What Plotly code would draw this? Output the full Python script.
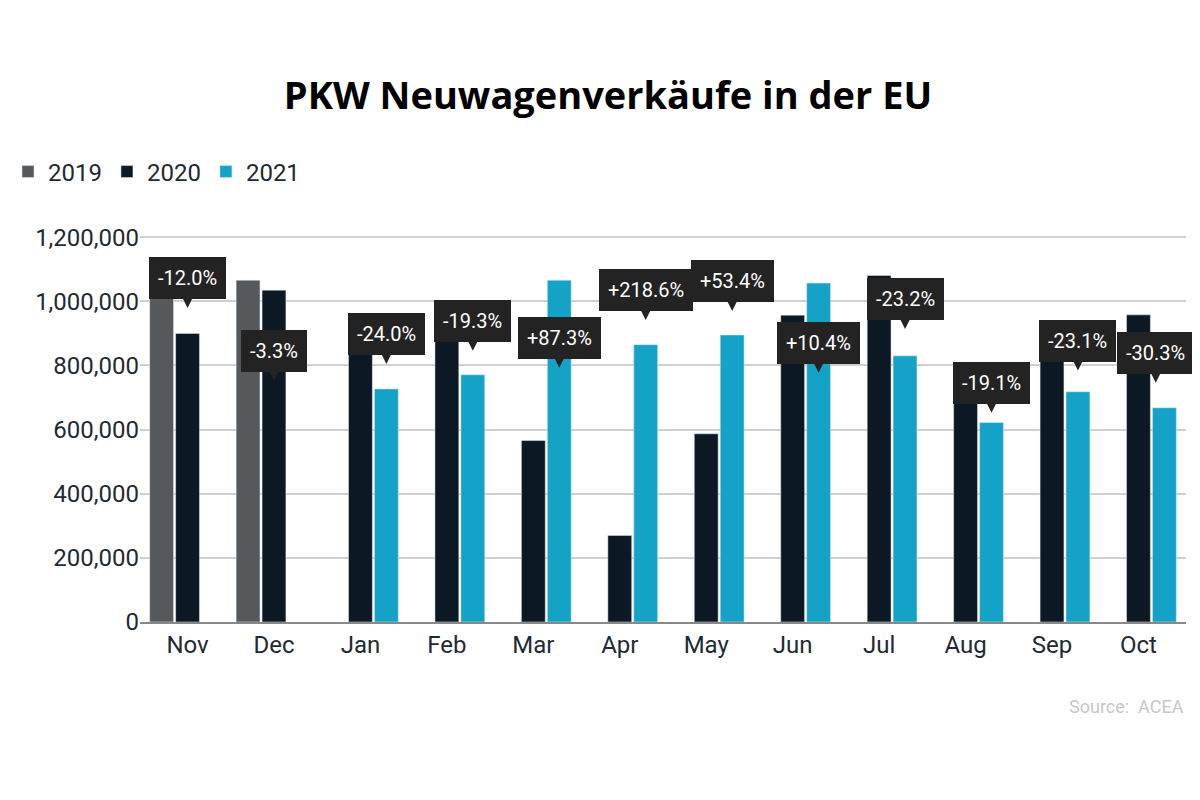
import plotly.graph_objects as go

months = ["Nov", "Dec", "Jan", "Feb", "Mar", "Apr", "May", "Jun", "Jul", "Aug", "Sep", "Oct"]
sales_2019 = [1020000, 1066000, None, None, None, None, None, None, None, None, None, None]
sales_2020 = [900000, 1035000, 955000, 955000, 566000, 270000, 587000, 957000, 1081000, 769000, 934000, 958000]
sales_2021 = [None, None, 727000, 771000, 1066000, 865000, 895000, 1057000, 830000, 622000, 718000, 668000]
changes = ["-12.0%", "-3.3%", "-24.0%", "-19.3%", "+87.3%", "+218.6%", "+53.4%", "+10.4%", "-23.2%", "-19.1%", "-23.1%", "-30.3%"]
# label placement (box centre)
label_y = [1072000, 845000, 898000, 939000, 886000, 1035000, 1063000, 870000, 1007000, 746000, 877000, 839000]
label_dx = [0, 0, 0.3, 0.3, 0.3, 0.3, 0.3, 0.3, 0.3, 0.3, 0.3, 0.2]

x = list(range(len(months)))

fig = go.Figure()
fig.add_trace(go.Bar(x=x, y=sales_2019, name="2019", marker_color="#55595b"))
fig.add_trace(go.Bar(x=x, y=sales_2020, name="2020", marker_color="#0c1924"))
fig.add_trace(go.Bar(x=x, y=sales_2021, name="2021", marker_color="#14a2c6"))

for i in x:
    # arrow tip sits ~30px below the box centre
    fig.add_annotation(x=i + label_dx[i], y=label_y[i] - 93000, ax=0, ay=-30,
                       text=changes[i], showarrow=True, arrowhead=2, arrowsize=1.6,
                       arrowwidth=2.5, arrowcolor="#232323", standoff=0,
                       bgcolor="#232323", bordercolor="#232323", borderpad=8,
                       font=dict(color="white", size=20, family="Roboto"))

fig.update_layout(
    width=1200, height=800,
    paper_bgcolor="white", plot_bgcolor="white",
    barmode="group", bargap=0.1, bargroupgap=0.08,
    margin=dict(l=132, r=22, t=210, b=186),
    title=dict(text="<b>PKW Neuwagenverkäufe in der EU</b>", x=0.5, y=0.89, yref="container",
               yanchor="middle", xanchor="center",
               font=dict(size=38, color="black", family="Open Sans")),
    legend=dict(orientation="h", x=0.0, y=0.795, xref="container", yref="container",
                xanchor="left", yanchor="middle",
                font=dict(size=24, color="#1e2a33", family="Roboto"), itemwidth=30),
    font=dict(family="Roboto"),
)
fig.update_xaxes(tickvals=x, ticktext=months, range=[-0.55, 11.55],
                 tickfont=dict(size=24, color="#1e2a33"), showline=True, linecolor="#888", linewidth=2)
fig.update_yaxes(range=[0, 1260000], tickvals=[0, 200000, 400000, 600000, 800000, 1000000, 1200000],
                 tickformat=",", tickfont=dict(size=24, color="#1e2a33"),
                 gridcolor="#d0d0d0", gridwidth=1.5, zeroline=False)
fig.add_annotation(text="Source:  ACEA", xref="paper", yref="paper", x=1, y=-0.24,
                   xanchor="right", showarrow=False, font=dict(size=18, color="#c8c8c8"))

fig.write_html("out.html")
